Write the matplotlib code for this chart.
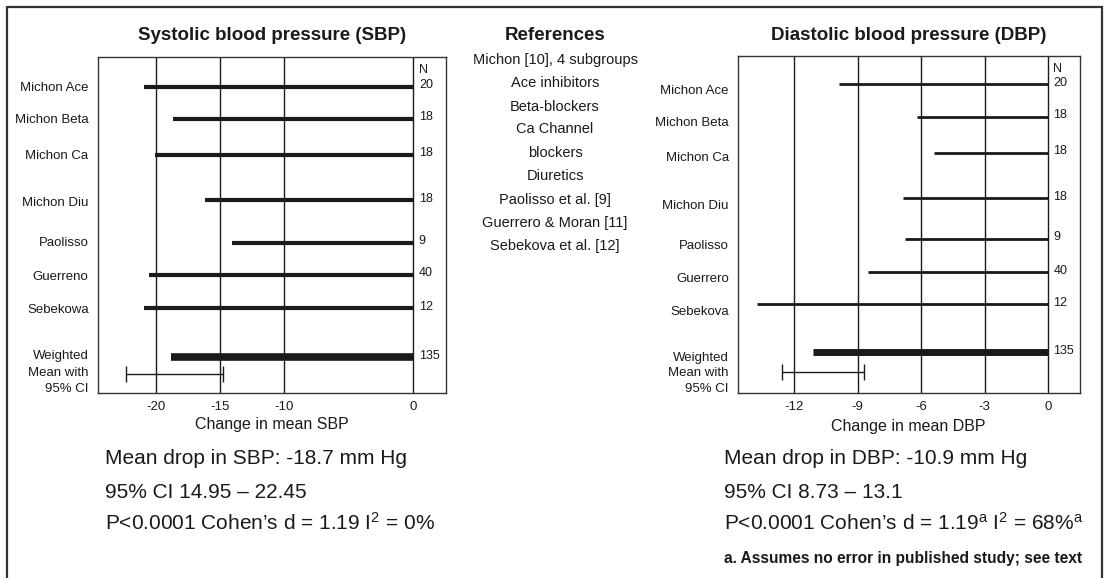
import matplotlib
matplotlib.use("Agg")
import matplotlib.pyplot as plt
from matplotlib.patches import Rectangle

plt.rcParams['font.family'] = ['Liberation Sans', 'DejaVu Sans']
plt.rcParams['mathtext.fontset'] = 'custom'
plt.rcParams['mathtext.rm'] = 'Liberation Sans'
plt.rcParams['mathtext.it'] = 'Liberation Sans:italic'
plt.rcParams['mathtext.bf'] = 'Liberation Sans:bold'

# ---------------- data ----------------
sbp_labels = ["Michon Ace", "Michon Beta", "Michon Ca", "Michon Diu",
              "Paolisso", "Guerreno", "Sebekowa"]
sbp_values = [-20.9, -18.7, -20.1, -16.2, -14.1, -20.5, -20.9]
sbp_n = ["20", "18", "18", "18", "9", "40", "12"]
sbp_mean = -18.8
sbp_ci = [-22.3, -14.8]
sbp_total_n = "135"
sbp_ticks = [-20, -15, -10, 0]

dbp_labels = ["Michon Ace", "Michon Beta", "Michon Ca", "Michon Diu",
              "Paolisso", "Guerrero", "Sebekova"]
dbp_values = [-9.9, -6.2, -5.4, -6.85, -6.75, -8.5, -13.75]
dbp_n = ["20", "18", "18", "18", "9", "40", "12"]
dbp_mean = -11.1
dbp_ci = [-12.6, -8.7]
dbp_total_n = "135"
dbp_ticks = [-12, -9, -6, -3, 0]

references = ["Michon [10], 4 subgroups", "Ace inhibitors", "Beta-blockers",
              "Ca Channel", "blockers", "Diuretics", "Paolisso et al. [9]",
              "Guerrero & Moran [11]", "Sebekova et al. [12]"]

sbp_summary = ["Mean drop in SBP: -18.7 mm Hg",
               "95% CI 14.95 \u2013 22.45",
               "P<0.0001 Cohen\u2019s d = 1.19 I$^{2}$ = 0%"]
dbp_summary = ["Mean drop in DBP: -10.9 mm Hg",
               "95% CI 8.73 \u2013 13.1",
               "P<0.0001 Cohen\u2019s d = 1.19$^{\\mathrm{a}}$ I$^{2}$ = 68%$^{\\mathrm{a}}$"]
footnote = "a. Assumes no error in published study; see text"

# ---------------- layout (pixel positions) ----------------
W, H = 1109, 578
fig = plt.figure(figsize=(W / 100, H / 100), dpi=100)


def fx(x):
    return x / W


def fy(y):
    return 1 - y / H


# outer frame
fig.patches.append(Rectangle((fx(7), -0.02), fx(1102) - fx(7), fy(7) + 0.02,
                             transform=fig.transFigure, fill=False,
                             edgecolor='#333333', lw=1.6, clip_on=False))

INK = '#1a1a1a'


def panel(left, right, top, bottom, values, labels, nlab, mean, ci, total_n,
          ticks, xlim, bar_y, lab_y, w_y, ci_y, wlab_y, bar_lw, mean_lw):
    ax = fig.add_axes([fx(left), fy(bottom), fx(right) - fx(left),
                       fy(top) - fy(bottom)])
    ax.set_xlim(*xlim)
    ax.set_ylim(bottom, top)
    ax.set_xticks(ticks)
    ax.set_xticklabels([str(t) for t in ticks], fontsize=9.5, color=INK)
    ax.tick_params(axis='x', length=0, pad=6)
    ax.set_yticks([])
    ax.grid(axis='x', color=INK, lw=1.0)
    ax.set_axisbelow(True)
    for s in ax.spines.values():
        s.set_color('#333333')
        s.set_linewidth(1.0)
    ax.hlines(bar_y, values, 0, color=INK, lw=bar_lw, zorder=3)
    ax.hlines([w_y], [mean], 0, color=INK, lw=mean_lw, zorder=3)
    ax.errorbar([sum(ci) / 2], [ci_y], xerr=[[(ci[1] - ci[0]) / 2]],
                fmt='none', ecolor=INK, elinewidth=1.0, capsize=6,
                capthick=1.0, zorder=3)
    ytr = ax.get_yaxis_transform()
    for y, t in zip(lab_y, labels):
        ax.text(-0.027, y, t, transform=ytr, ha='right', va='center',
                fontsize=9.5, color=INK)
    for y, t in zip(wlab_y, ["Weighted", "Mean with", "95% CI"]):
        ax.text(-0.027, y, t, transform=ytr, ha='right', va='center',
                fontsize=9.5, color=INK)
    nx = 0.922
    ax.text(nx, top + 13, "N", transform=ytr, ha='left', va='center',
            fontsize=9, color=INK)
    for y, t in zip(bar_y, nlab):
        ax.text(nx, y - 1.5, t, transform=ytr, ha='left', va='center',
                fontsize=9, color=INK)
    ax.text(nx, w_y - 1, total_n, transform=ytr, ha='left', va='center',
            fontsize=9, color=INK)
    return ax


sbp_ax = panel(98, 446, 57, 393, sbp_values, sbp_labels, sbp_n, sbp_mean,
               sbp_ci, sbp_total_n, sbp_ticks, (-24.5, 2.57),
               [87, 119, 155, 200, 243, 275, 308],
               [88, 120, 156, 203, 243, 277, 310], 357, 374,
               [356, 373, 389], 3.0, 5.5)
dbp_ax = panel(738, 1080, 56, 393, dbp_values, dbp_labels, dbp_n, dbp_mean,
               dbp_ci, dbp_total_n, dbp_ticks, (-14.66, 1.5),
               [84, 117, 153, 198, 239, 272, 304],
               [91, 123, 158, 206, 246, 279, 312], 352, 372,
               [358, 373, 389], 2.0, 5.0)

# titles
fig.text(fx(272), fy(35), "Systolic blood pressure (SBP)", ha='center',
         va='center', fontsize=13.5, fontweight='bold', color=INK)
fig.text(fx(909), fy(35), "Diastolic blood pressure (DBP)", ha='center',
         va='center', fontsize=13.5, fontweight='bold', color=INK)
fig.text(fx(555), fy(35), "References", ha='center', va='center',
         fontsize=13.5, fontweight='bold', color=INK)

# x labels
fig.text(fx(272), fy(424), "Change in mean SBP", ha='center', va='center',
         fontsize=11.5, color=INK)
fig.text(fx(908), fy(426), "Change in mean DBP", ha='center', va='center',
         fontsize=11.5, color=INK)

# references list
ref_y = [60, 83, 107, 129, 153, 176, 200, 223, 246]
for y, t in zip(ref_y, references):
    fig.text(fx(555), fy(y), t, ha='center', va='center', fontsize=10.5,
             color=INK)

# summaries
sum_y = [459, 492, 523]
for y, t in zip(sum_y, sbp_summary):
    fig.text(fx(105), fy(y), t, ha='left', va='center', fontsize=15,
             color=INK)
for y, t in zip(sum_y, dbp_summary):
    fig.text(fx(724), fy(y), t, ha='left', va='center', fontsize=15,
             color=INK)
fig.text(fx(724), fy(558), footnote, ha='left', va='center', fontsize=11.2,
         fontweight='bold', color=INK)

fig.savefig("out.png", dpi=100)
